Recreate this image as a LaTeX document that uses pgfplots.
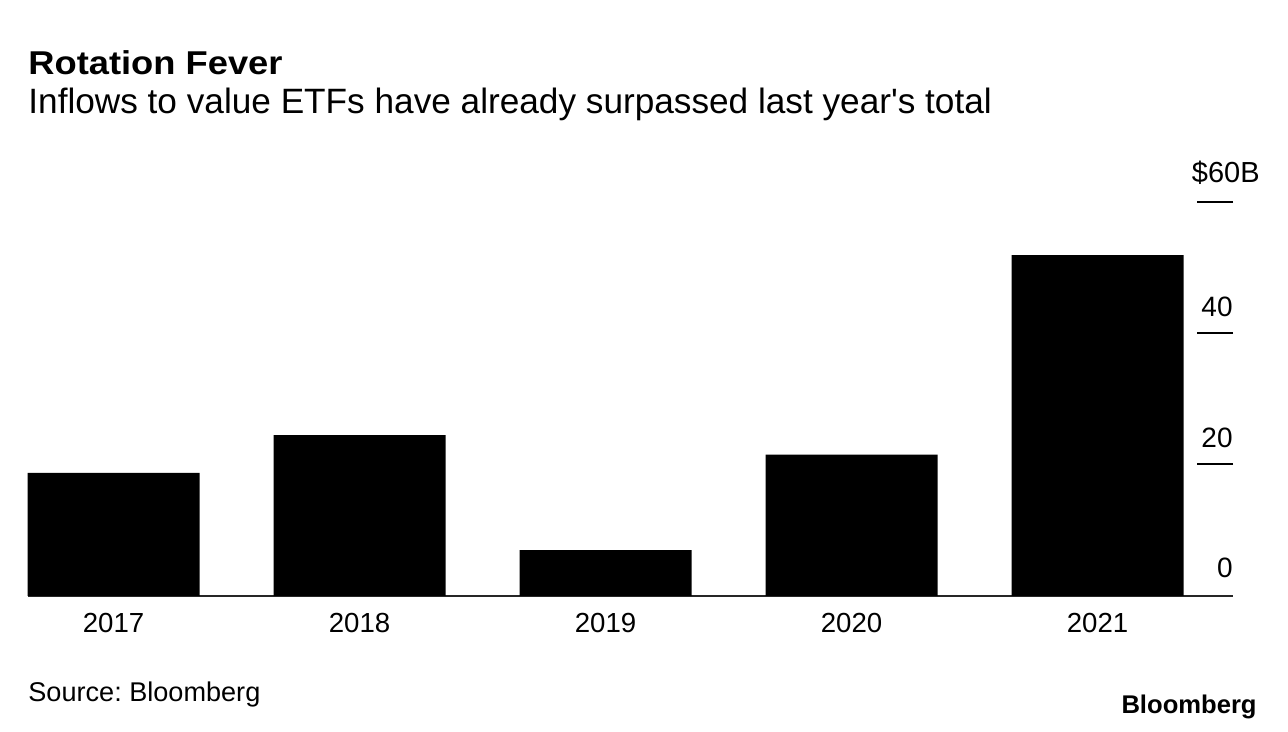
\documentclass[border=0pt]{standalone}
\usepackage{fontspec}
\setmainfont{Liberation Sans}
\usepackage{pgfplots}
\pgfplotsset{compat=1.18}
\frenchspacing

\begin{document}
\begin{tikzpicture}[x=1pt,y=1pt]
% 1 px of the reference = 0.5pt
\useasboundingbox (0,0) rectangle (644,366);

\node[anchor=base west, inner sep=0] at (14,328.75)
  {\fontsize{16.5}{19}\fontspec{Liberation Sans}[FakeStretch=1.1]\bfseries Rotation Fever};
\node[anchor=base west, inner sep=0] at (14,309.25)
  {\fontsize{17.6}{20}\selectfont Inflows to value ETFs have already surpassed last year\textquotesingle s total};

\begin{axis}[
    at={(14pt,68pt)}, anchor=south west,
    scale only axis,
    width=602.5pt, height=197.25pt,
    xmin=-0.3476, xmax=4.5508,
    ymin=0, ymax=60,
    axis y line*=right,
    axis x line*=bottom,
    x axis line style={line width=0.8pt, black!85},
    y axis line style={draw=none},
    xtick={0,1,2,3,4},
    xticklabels={2017,2018,2019,2020,2021},
    xtick style={draw=none},
    xticklabel style={font=\fontsize{13.8}{16}\selectfont, anchor=base, yshift=-18.5pt},
    ytick={20,40,60},
    yticklabels={},
    ytick style={line width=1pt, black},
    tick align=inside,
    major tick length=18pt,
    clip=false,
]
\addplot[ybar, bar width=86pt, fill=black, draw=none] coordinates {
  (0,18.74) (1,24.46) (2,6.97) (3,21.52) (4,51.83)
};
\node[anchor=base east, inner sep=0, font=\fontsize{14}{16}\selectfont] at (axis cs:4.5508,0) [yshift=9pt] {0};
\node[anchor=base east, inner sep=0, font=\fontsize{14}{16}\selectfont] at (axis cs:4.5508,20) [yshift=8.5pt] {20};
\node[anchor=base east, inner sep=0, font=\fontsize{14}{16}\selectfont] at (axis cs:4.5508,40) [yshift=8.5pt] {40};
\node[anchor=base east, inner sep=0, font=\fontsize{14.5}{16}\selectfont] at (axis cs:4.5508,60) [yshift=9.5pt, xshift=13.5pt] {\$60B};
\end{axis}

\node[anchor=base west, inner sep=0] at (14,15)
  {\fontsize{13.55}{16}\selectfont Source: Bloomberg};
\node[anchor=base east, inner sep=0] at (628.5,9)
  {\fontsize{12.8}{15}\selectfont\bfseries Bloomberg};
\end{tikzpicture}
\end{document}
